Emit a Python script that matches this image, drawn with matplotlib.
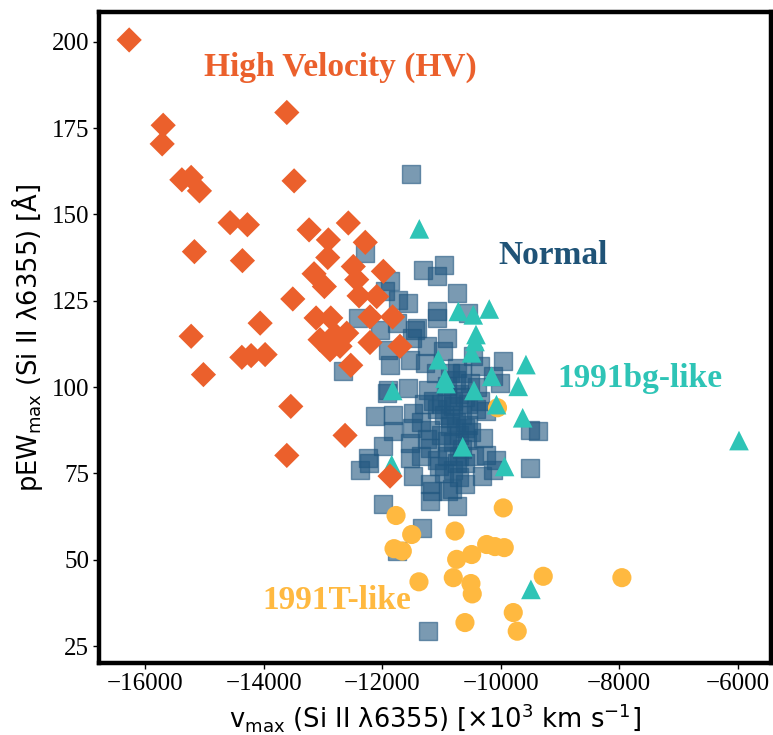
import matplotlib
matplotlib.use("Agg")
import matplotlib.pyplot as plt

# ---------------- data ----------------
hv_v = [-16270, -15696, -15713, -15381, -15224, -15084, -13487, -13610, -14567, -14275,
        -15169, -14359, -13234, -12572, -12909, -12919, -12286, -13150, -12976, -12488,
        -12430, -11981, -12391, -12093, -13509, -14060, -15224, -15017, -14369, -14212,
        -13976, -13543, -13610, -12627, -11868, -13116, -12868, -13049, -12796, -12599,
        -12880, -12712, -12531, -12206, -11825, -12206, -11700]
hv_pew = [200.5, 175.8, 170.4, 160.0, 160.7, 156.8, 159.7, 179.5, 147.6, 147.0,
          139.2, 136.6, 145.5, 147.5, 142.6, 137.5, 141.9, 132.8, 129.1, 134.9,
          131.1, 133.5, 126.4, 126.2, 125.5, 118.5, 114.7, 103.6, 108.6, 109.1,
          109.4, 94.4, 80.2, 86.0, 74.2, 120.0, 120.0, 113.7, 115.2, 115.6,
          110.8, 111.8, 106.3, 120.3, 120.3, 112.9, 111.8]

normal_v = [-11514, -11307, -10953, -11071, -10744, -11868, -11953, -11560, -11728, -11083,
            -11083, -10548, -12403, -11420, -12037, -10913, -11504, -11251, -11897, -10970,
            -10464, -9958, -11531, -11868, -11278, -10744, -10351, -12656, -12290, -11897,
            -11560, -11223, -10913, -10520, -10126, -10013, -12122, -11813, -11476, -11083,
            -10801, -10410, -10241, -9508, -9367, -11813, -11504, -11194, -10857, -10548,
            -11981, -11531, -11194, -10913, -10576, -10295, -12234, -11531, -11083, -10744,
            -10241, -10072, -9508, -12375, -11476, -11194, -10885, -10324, -11981, -11194,
            -10744, -12223, -11334, -11756, -10830, -11165, -10126, -11223, -11756, -11447,
            -11924,
            -10900, -10800, -10700, -10600, -10950, -10850, -10750, -10650, -10700, -10800,
            -10650, -10900, -10700, -10600, -10800, -10950, -10700, -10600, -11000, -11000,
            -10550, -10500, -10600, -10750, -10850, -10650, -11100, -11150, -11300, -11350,
            -11250, -11350, -11050, -10450, -10400, -10350]
normal_pew = [161.8, 133.8, 135.4, 132.2, 127.2, 130.6, 127.7, 124.3, 125.3, 121.9,
              120.0, 121.4, 120.0, 117.1, 116.6, 114.2, 114.2, 111.8, 110.8, 110.3,
              108.9, 107.4, 107.9, 106.5, 107.0, 105.5, 106.0, 104.5, 138.9, 99.2,
              99.7, 99.2, 100.2, 101.2, 103.1, 101.2, 91.5, 92.0, 92.5, 93.5,
              94.4, 93.5, 93.0, 87.7, 87.2, 87.2, 88.2, 87.7, 88.6, 89.1,
              82.8, 83.8, 82.4, 84.3, 84.8, 85.3, 79.5, 79.5, 79.0, 78.0,
              80.4, 79.0, 76.6, 76.1, 74.2, 71.8, 69.8, 74.2, 66.0, 66.9,
              65.5, 78.0, 59.2, 52.5, 70.5, 69.8, 76.1, 29.3, 118.5, 116.6,
              98.3,
              97.0, 96.0, 98.0, 97.0, 92.0, 91.0, 90.0, 92.0, 86.0, 84.0,
              82.0, 80.0, 80.0, 78.0, 76.0, 75.0, 74.0, 72.0, 86.0, 95.0,
              95.0, 87.0, 88.0, 102.0, 104.0, 104.0, 104.0, 96.0, 95.0, 90.0,
              85.0, 80.0, 77.0, 80.0, 100.0, 96.0]

bg_v = [-11374, -10716, -10464, -10194, -10418, -10435, -10492, -11054, -9575, -10941,
        -11823, -10924, -10452, -10154, -9705, -10072, -9630, -10642, -9936, -11840,
        -5980, -9491]
bg_pew = [145.8, 121.9, 120.9, 122.6, 115.2, 113.2, 109.9, 107.9, 106.5, 102.6,
          99.0, 101.0, 99.0, 103.1, 100.2, 94.9, 91.1, 82.7, 77.0, 77.5,
          84.5, 41.4]

t_v = [-11767, -11503, -11801, -11661, -11380, -10772, -10744, -10491, -10238, -10098,
       -9941, -9958, -10801, -10503, -10481, -10604, -9789, -9722, -9283, -7956, -10055]
t_pew = [62.8, 57.3, 53.2, 52.5, 43.6, 58.3, 50.1, 51.5, 54.4, 53.8,
         53.5, 65.0, 44.8, 43.1, 40.1, 31.8, 34.7, 29.3, 45.2, 44.8, 94.0]

xticks = [-16000, -14000, -12000, -10000, -8000, -6000]
yticks = [25, 50, 75, 100, 125, 150, 175, 200]

c_hv = "#EB602C"
c_norm = "#215780"
c_bg = "#2EC4B6"
c_t = "#FFB940"

# ---------------- figure ----------------
fig = plt.figure(figsize=(7.73, 7.35), dpi=100)
ax = fig.add_axes([0.128, 0.098, 0.8694, 0.8857])

ax.scatter(normal_v, normal_pew, marker="s", s=185, color=c_norm, alpha=0.6,
           edgecolors=c_norm, linewidths=1.0, zorder=2)
ax.scatter(t_v, t_pew, marker="o", s=190, color=c_t, edgecolors="none", zorder=3)
ax.scatter(bg_v, bg_pew, marker="^", s=200, color=c_bg, edgecolors="none", zorder=4)
ax.scatter(hv_v, hv_pew, marker="D", s=165, color=c_hv, edgecolors="none", zorder=5)

ax.set_xlim(-16780, -5440)
ax.set_ylim(20.1, 208.6)
ax.set_xticks(xticks)
ax.set_yticks(yticks)

serif = "Liberation Serif"
for lab in ax.get_xticklabels() + ax.get_yticklabels():
    lab.set_fontfamily(serif)
    lab.set_fontsize(18)
ax.tick_params(direction="out", length=4, width=1, colors="black", pad=3)

for sp in ax.spines.values():
    sp.set_linewidth(3.2)
    sp.set_color("black")

ax.set_xlabel("v$_{\\rm max}$ (Si II λ6355) [×10$^3$ km s$^{-1}$]",
              fontsize=18.5, family="DejaVu Sans", labelpad=5)
ax.set_ylabel("pEW$_{\\rm max}$ (Si II λ6355) [Å]",
              fontsize=18.5, family="DejaVu Sans", labelpad=5)

tk = dict(family=serif, fontweight="bold", fontsize=24, ha="center", va="center")
ax.text(-12712, 192.7, "High Velocity (HV)", color=c_hv, **tk)
ax.text(-9120, 138.0, "Normal", color="#1F5377", **tk)
ax.text(-7653, 102.5, "1991bg-like", color=c_bg, **tk)
ax.text(-12762, 38.2, "1991T-like", color=c_t, **tk)

fig.savefig("out.png", dpi=100)
